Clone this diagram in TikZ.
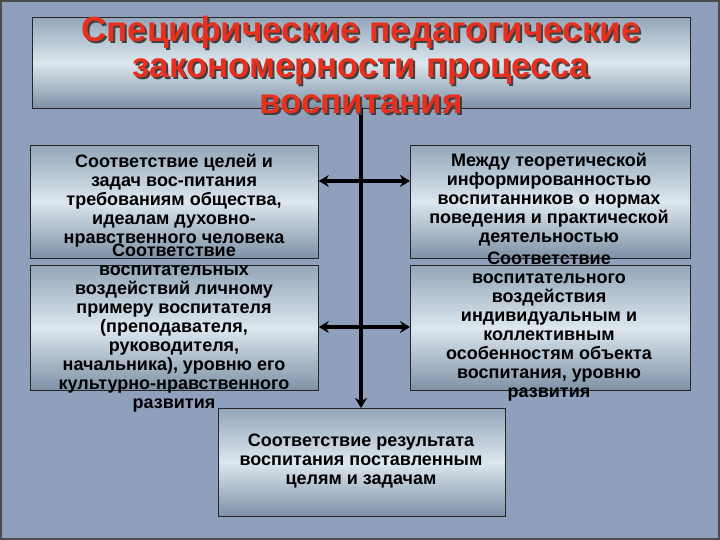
\documentclass[tikz,border=0pt]{standalone}
\usepackage{fontspec}
\setmainfont{Liberation Sans}
\usetikzlibrary{arrows.meta}
\definecolor{bg}{HTML}{8FA0BD}
\definecolor{btop}{HTML}{93A6BA}
\definecolor{bmid}{HTML}{DCE7EE}
\definecolor{bbot}{HTML}{7D91A6}
\definecolor{ttl}{HTML}{E8301E}
\tikzset{
  box/.style={draw=black!85, line width=0.8pt, top color=btop, bottom color=bbot, middle color=bmid},
  txt/.style={align=center, font=\bfseries\fontsize{18}{19}\selectfont, text=black, inner sep=0pt},
  conn/.style={line width=3.6pt, -{Stealth[length=10pt,width=12pt]}},
  conn2/.style={line width=3.6pt, {Stealth[length=10pt,width=12pt]}-{Stealth[length=10pt,width=12pt]}}
}
\begin{document}
\begin{tikzpicture}[x=1pt,y=-1pt]
\fill[bg] (0,0) rectangle (720,540);
\draw[line width=1.5pt, black!70] (1,1) rectangle (719,539);
\node[box, minimum width=658pt, minimum height=91pt, anchor=north west, inner sep=0pt] (title) at (32,17) {};
\node[box, minimum width=288pt, minimum height=113pt, anchor=north west, inner sep=0pt] (l1) at (30,145) {};
\node[box, minimum width=288pt, minimum height=125pt, anchor=north west, inner sep=0pt] (l2) at (30,265) {};
\node[box, minimum width=280pt, minimum height=113pt, anchor=north west, inner sep=0pt] (r1) at (410,145) {};
\node[box, minimum width=280pt, minimum height=125pt, anchor=north west, inner sep=0pt] (r2) at (410,265) {};
\node[box, minimum width=287pt, minimum height=108pt, anchor=north west, inner sep=0pt] (b) at (218,408) {};
\coordinate (top) at (361,108);
\coordinate (j1) at (361,181);
\coordinate (j2) at (361,327);
\draw[conn] (top) -- (b.north -| top);
\draw[conn2] (l1.east |- j1) -- (r1.west |- j1);
\draw[conn2] (l2.east |- j2) -- (r2.west |- j2);
\node[align=center, font=\bfseries\fontsize{35}{36}\selectfont, text=black!75, inner sep=0pt] (tts) at (363,67)
  {Специфические педагогические\\закономерности процесса\\воспитания};
\node[align=center, font=\bfseries\fontsize{35}{36}\selectfont, text=ttl, inner sep=0pt] (tt) at (361,65)
  {Специфические педагогические\\закономерности процесса\\воспитания};
\node[txt] (tl1) at (174,201) {Соответствие целей и\\задач вос-питания\\требованиям общества,\\идеалам духовно-\\нравственного человека};
\node[txt] (tl2) at (174,328) {Соответствие\\воспитательных\\воздействий личному\\примеру воспитателя\\(преподавателя,\\руководителя,\\начальника), уровню его\\культурно-нравственного\\развития};
\node[txt] (tr1) at (549,200) {Между теоретической\\информированностью\\воспитанников  о нормах\\поведения и практической\\деятельностью};
\node[txt] (tr2) at (549,327) {Соответствие\\воспитательного\\воздействия\\индивидуальным и\\коллективным\\особенностям объекта\\воспитания, уровню\\развития};
\node[txt] (tb) at (361,461) {Соответствие результата\\воспитания поставленным\\целям и задачам};
\end{tikzpicture}
\end{document}
